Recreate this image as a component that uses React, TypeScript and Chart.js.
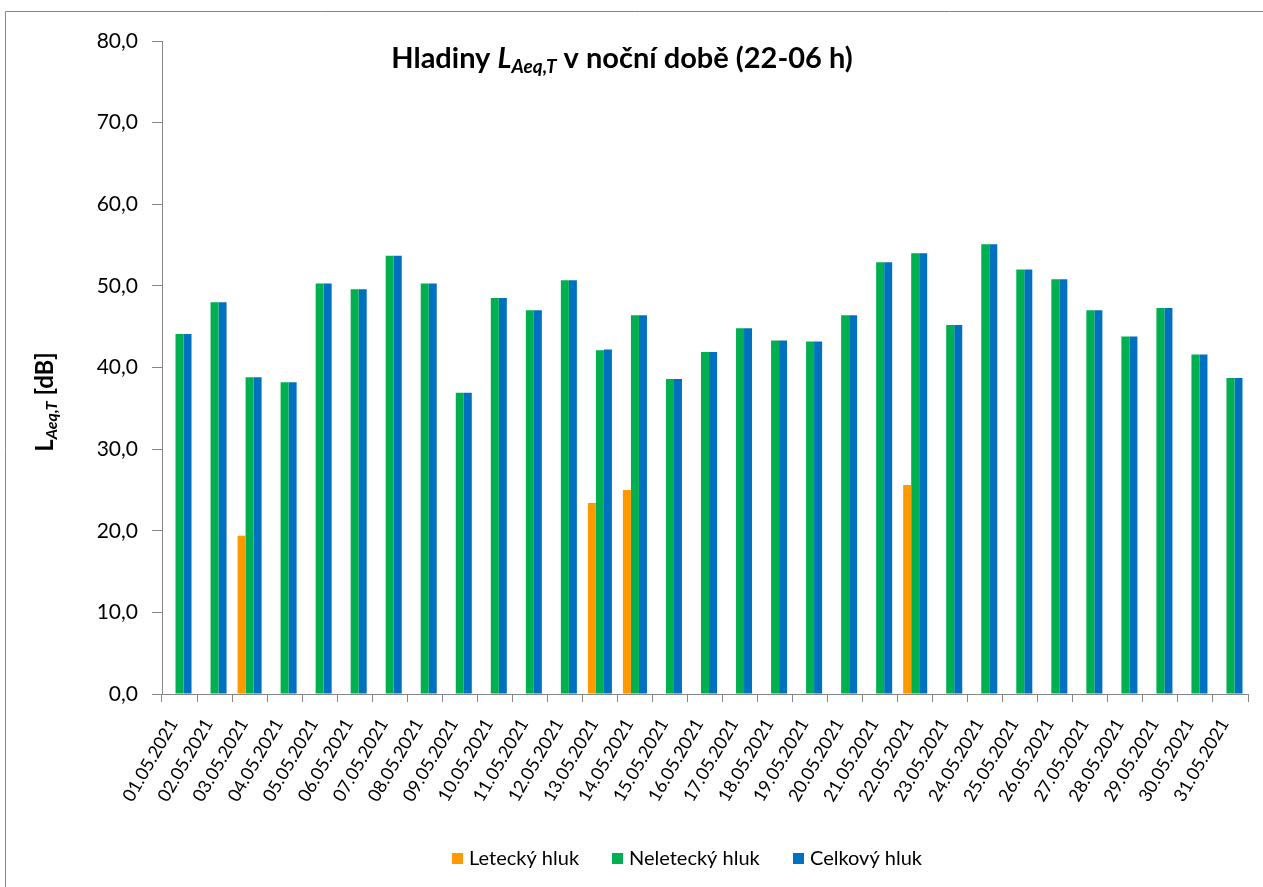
import React, { useEffect, useRef } from 'react';
import { Chart, registerables } from 'chart.js';

Chart.register(...registerables);

const categories = [
  '01.05.2021', '02.05.2021', '03.05.2021', '04.05.2021', '05.05.2021', '06.05.2021', '07.05.2021',
  '08.05.2021', '09.05.2021', '10.05.2021', '11.05.2021', '12.05.2021', '13.05.2021', '14.05.2021',
  '15.05.2021', '16.05.2021', '17.05.2021', '18.05.2021', '19.05.2021', '20.05.2021', '21.05.2021',
  '22.05.2021', '23.05.2021', '24.05.2021', '25.05.2021', '26.05.2021', '27.05.2021', '28.05.2021',
  '29.05.2021', '30.05.2021', '31.05.2021',
];

const leteckyHluk: (number | null)[] = [
  null, null, 19.4, null, null, null, null, null, null, null, null, null, 23.4, 25.0,
  null, null, null, null, null, null, null, 25.6, null, null, null, null, null, null, null, null, null,
];

const neleteckyHluk = [
  44.1, 48.0, 38.8, 38.2, 50.3, 49.6, 53.7, 50.3, 36.9, 48.5, 47.0, 50.7, 42.1, 46.4,
  38.6, 41.9, 44.8, 43.3, 43.2, 46.4, 52.9, 54.0, 45.2, 55.1, 52.0, 50.8, 47.0, 43.8, 47.3, 41.6, 38.7,
];

const celkovyHluk = [
  44.1, 48.0, 38.8, 38.2, 50.3, 49.6, 53.7, 50.3, 36.9, 48.5, 47.0, 50.7, 42.2, 46.4,
  38.6, 41.9, 44.8, 43.3, 43.2, 46.4, 52.9, 54.0, 45.2, 55.1, 52.0, 50.8, 47.0, 43.8, 47.3, 41.6, 38.7,
];

const seriesNames = ['Letecký hluk', 'Neletecký hluk', 'Celkový hluk'];
const seriesColors = ['#FF9900', '#00B050', '#0070C0'];

const FONT = 'Lato, "Liberation Sans", sans-serif';
const AXIS_GRAY = '#868686';

type Seg = { text: string; font: string; dy: number };

function drawRich(ctx: CanvasRenderingContext2D, segs: Seg[], cx: number, y: number) {
  let total = 0;
  const widths = segs.map((s) => {
    ctx.font = s.font;
    const w = ctx.measureText(s.text).width;
    total += w;
    return w;
  });
  let x = cx - total / 2;
  segs.forEach((s, i) => {
    ctx.font = s.font;
    ctx.fillText(s.text, x, y + s.dy);
    x += widths[i];
  });
}

const decorPlugin = {
  id: 'decor',
  beforeDraw(chart: any) {
    const ctx = chart.ctx as CanvasRenderingContext2D;
    ctx.save();
    ctx.strokeStyle = AXIS_GRAY;
    ctx.lineWidth = 1;
    ctx.beginPath();
    ctx.moveTo(5.5, 2000);
    ctx.lineTo(5.5, 11.5);
    ctx.lineTo(3000, 11.5);
    ctx.stroke();
    ctx.restore();
  },
  afterDraw(chart: any) {
    const ctx = chart.ctx as CanvasRenderingContext2D;
    ctx.save();
    ctx.fillStyle = '#000';
    ctx.textAlign = 'left';
    ctx.textBaseline = 'alphabetic';
    // Title
    drawRich(
      ctx,
      [
        { text: 'Hladiny ', font: `bold 29px ${FONT}`, dy: 0 },
        { text: 'L', font: `italic bold 29px ${FONT}`, dy: 0 },
        { text: 'Aeq,T', font: `italic bold 19px ${FONT}`, dy: 5 },
        { text: ' v noční době (22-06 h)', font: `bold 29px ${FONT}`, dy: 0 },
      ],
      622,
      68
    );
    // Y axis title
    ctx.translate(53, 402);
    ctx.rotate(-Math.PI / 2);
    drawRich(
      ctx,
      [
        { text: 'L', font: `bold 24px ${FONT}`, dy: 0 },
        { text: 'Aeq,T', font: `italic bold 16px ${FONT}`, dy: 4 },
        { text: ' [dB]', font: `bold 24px ${FONT}`, dy: 0 },
      ],
      0,
      0
    );
    ctx.setTransform(1, 0, 0, 1, 0, 0);
    // Legend
    const sqX = [452, 612, 793];
    ctx.font = `20px ${FONT}`;
    ctx.textBaseline = 'middle';
    seriesNames.forEach((name, i) => {
      ctx.fillStyle = seriesColors[i];
      ctx.fillRect(sqX[i], 853, 11, 11);
      ctx.fillStyle = '#000';
      ctx.fillText(name, sqX[i] + 17, 859);
    });
    ctx.restore();
  },
};

export default function App() {
  const ref = useRef<HTMLCanvasElement | null>(null);

  useEffect(() => {
    document.body.style.margin = '0';
    const canvas = ref.current;
    if (!canvas) return;
    const chart = new Chart(canvas, {
      type: 'bar',
      data: {
        labels: categories,
        datasets: [
          { label: seriesNames[0], data: leteckyHluk, backgroundColor: seriesColors[0] },
          { label: seriesNames[1], data: neleteckyHluk, backgroundColor: seriesColors[1] },
          { label: seriesNames[2], data: celkovyHluk, backgroundColor: seriesColors[2] },
        ],
      },
      options: {
        animation: false,
        responsive: false,
        devicePixelRatio: 1,
        layout: { padding: { top: 41, left: 0, right: 15, bottom: 0 } },
        datasets: { bar: { categoryPercentage: 24 / 35, barPercentage: 1 } } as any,
        plugins: {
          legend: { display: false },
          title: { display: false },
          tooltip: { enabled: false },
        },
        scales: {
          x: {
            afterFit: (s: any) => {
              s.height = 193;
              s.paddingRight = 0;
            },
            grid: {
              offset: true,
              drawOnChartArea: false,
              drawTicks: true,
              tickLength: 8,
              color: AXIS_GRAY,
            },
            border: { display: true, color: AXIS_GRAY },
            ticks: {
              autoSkip: false,
              minRotation: 60,
              maxRotation: 60,
              padding: 13,
              labelOffset: -6,
              color: '#000',
              font: { family: FONT, size: 18 },
            },
          },
          y: {
            min: 0,
            max: 80,
            afterFit: (s: any) => {
              s.width = 162;
            },
            grid: {
              drawOnChartArea: false,
              drawTicks: true,
              tickLength: 10,
              color: AXIS_GRAY,
            },
            border: { display: true, color: AXIS_GRAY },
            ticks: {
              stepSize: 10,
              padding: 14,
              color: '#000',
              font: { family: FONT, size: 21 },
              callback: (v: any) => Number(v).toFixed(1).replace('.', ','),
            },
          },
        },
      },
      plugins: [decorPlugin],
    });
    return () => chart.destroy();
  }, []);

  return (
    <div style={{ position: 'absolute', left: 0, top: 0, width: 1263, height: 887 }}>
      <canvas ref={ref} width={1263} height={887} style={{ display: 'block' }} />
    </div>
  );
}
